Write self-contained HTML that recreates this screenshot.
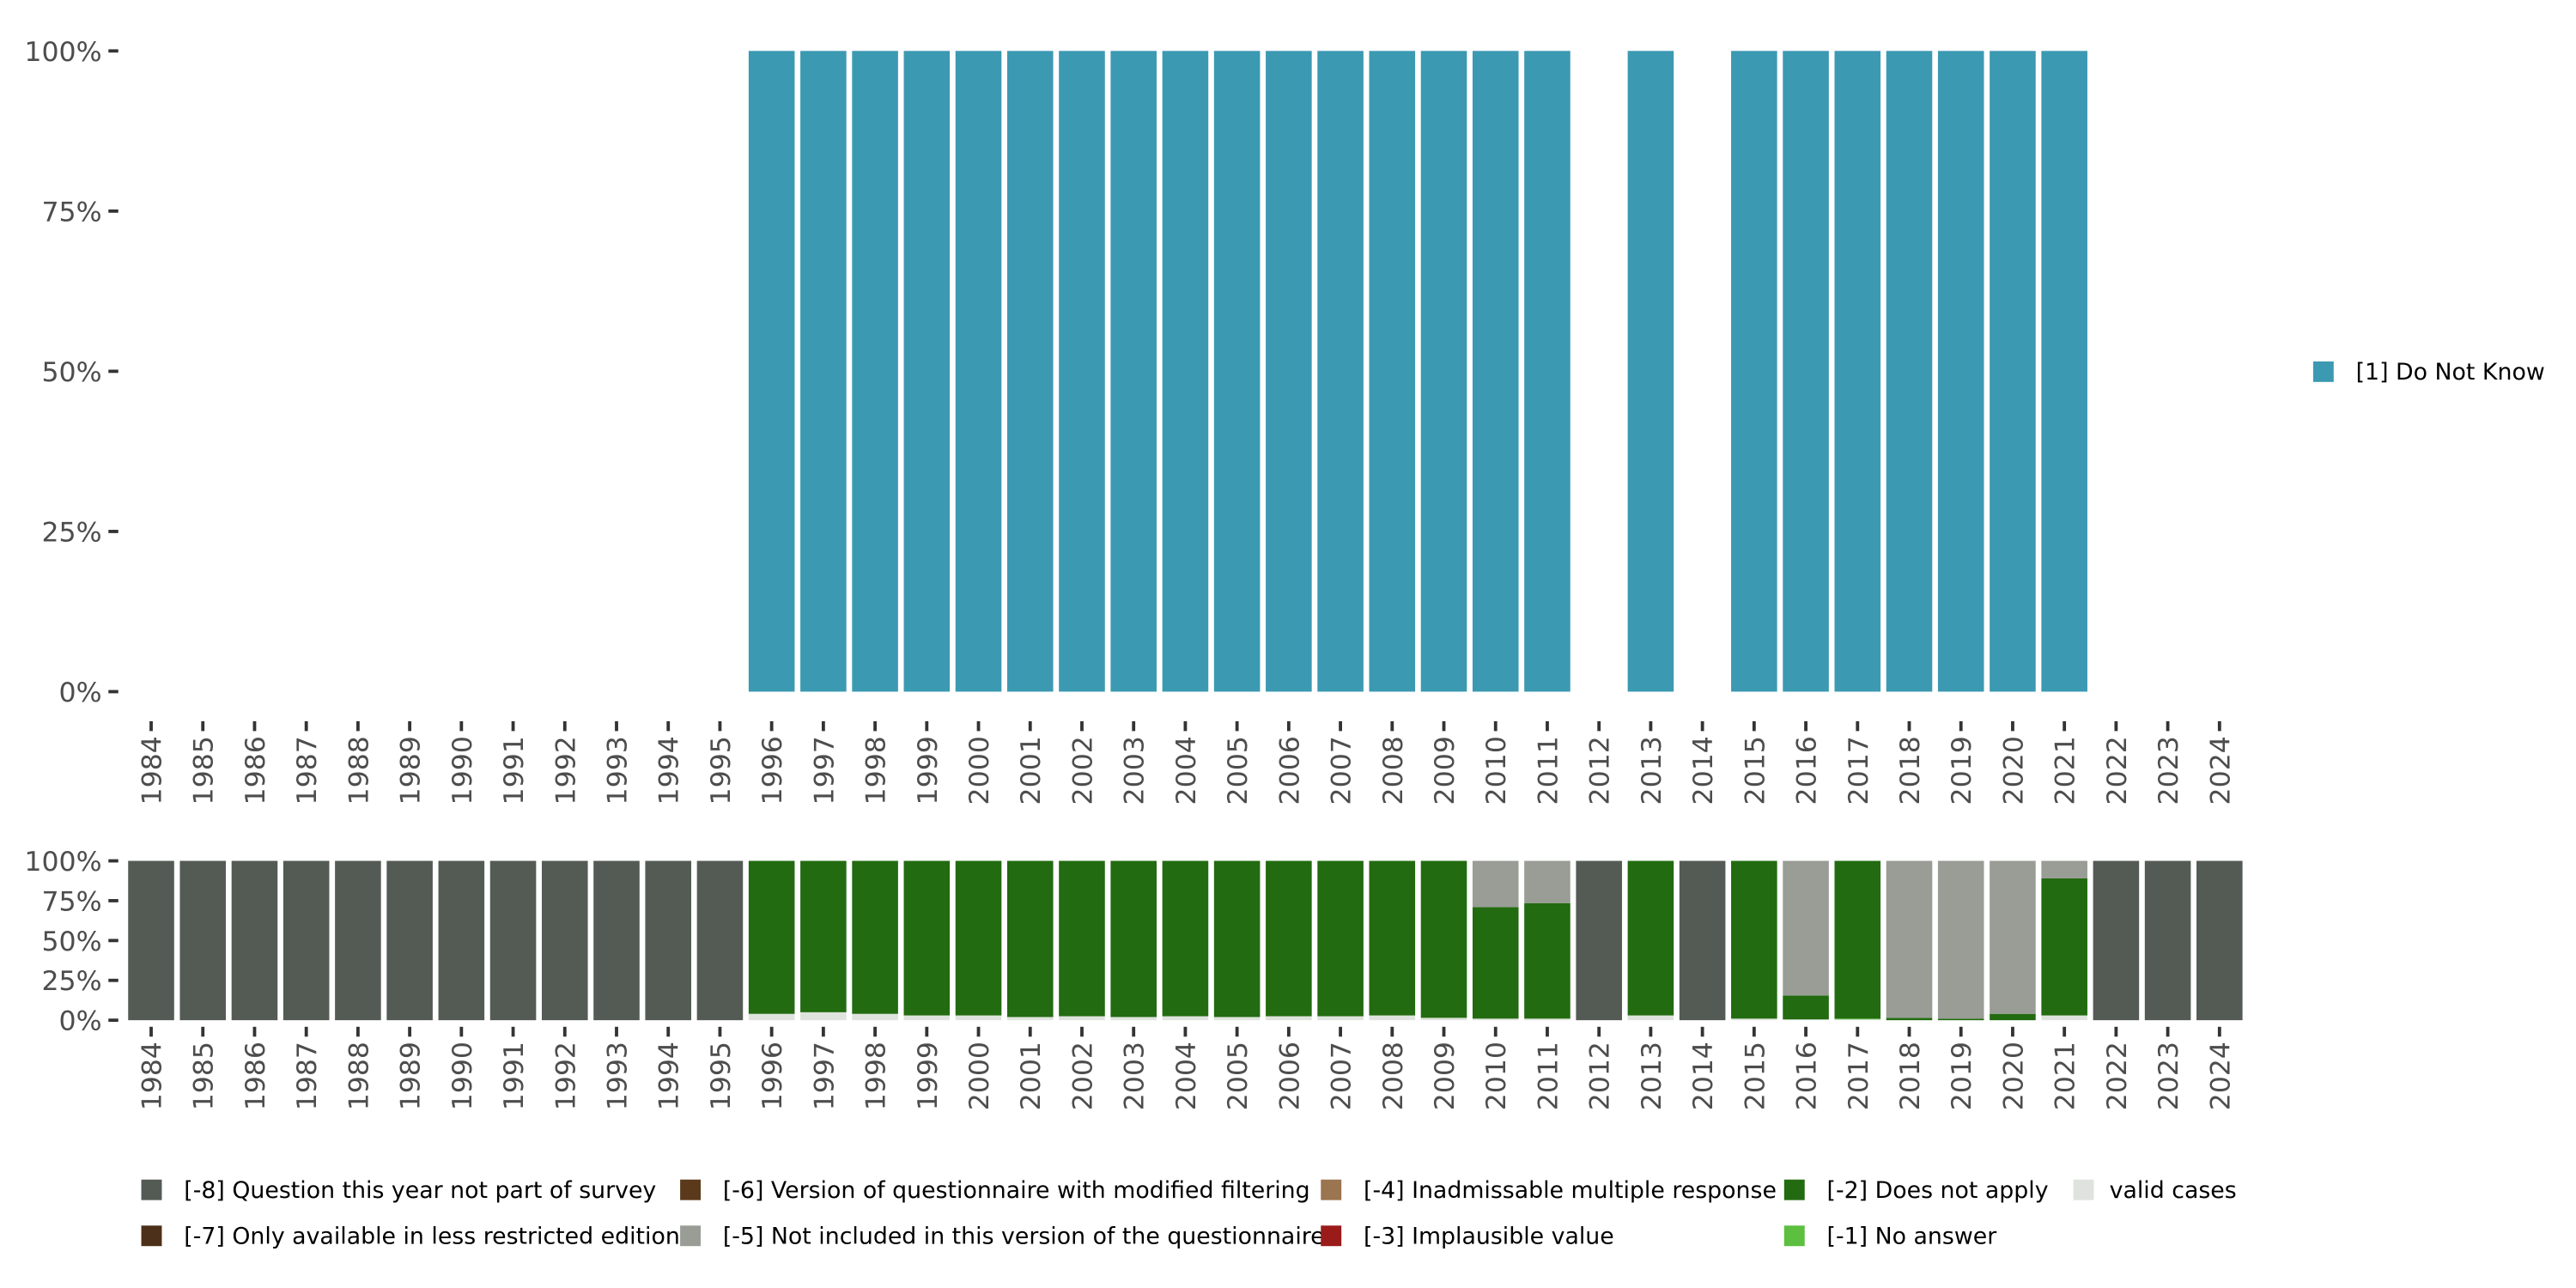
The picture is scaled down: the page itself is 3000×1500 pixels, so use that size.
<!DOCTYPE html>
<html><head><meta charset="utf-8"><style>
html,body{margin:0;padding:0;background:#fff;}
svg{display:block;font-family:"DejaVu Sans","Liberation Sans",sans-serif;}
</style></head><body>
<svg id="chart" width="3000" height="1500" viewBox="0 0 1568 784" xmlns="http://www.w3.org/2000/svg">
<g id="top"></g>
<g id="bottom"></g>
<g id="legend"></g>
</svg>
<script>
const years = [];
for (let y = 1984; y <= 2024; y++) years.push(y);
const topYears = [1996,1997,1998,1999,2000,2001,2002,2003,2004,2005,2006,2007,2008,2009,2010,2011,2013,2015,2016,2017,2018,2019,2020,2021];
const topValues = [100,100,100,100,100,100,100,100,100,100,100,100,100,100,100,100,100,100,100,100,100,100,100,100];
const yTicks = [0,25,50,75,100];
const yTickLabels = ["0%","25%","50%","75%","100%"];
// bottom stacked (percent), bottom-to-top: valid, -1, -2, -5, -8
const validVals = [0,0,0,0,0,0,0,0,0,0,0,0, 4,5,4,3,3,2,2.5,2,2.5,2,2.5,2.5,3,1.5, 1,1, 0,3,0,1,0.5,0.5,0,0,0,3, 0,0,0];
const noAnswerVals = [0,0,0,0,0,0,0,0,0,0,0,0, 0,0,0,0,0,0,0,0,0,0,0,0,0,0, 0,0, 0,0,0,0,0,0.5,0,0,0,0, 0,0,0];
const notApplyVals = [0,0,0,0,0,0,0,0,0,0,0,0, 96,95,96,97,97,98,97.5,98,97.5,98,97.5,97.5,97,98.5, 70,72.5, 0,97,0,99,15,99,1.5,1,4,86, 0,0,0];
const notIncludedVals = [0,0,0,0,0,0,0,0,0,0,0,0, 0,0,0,0,0,0,0,0,0,0,0,0,0,0, 29,26.5, 0,0,0,0,84.5,0,98.5,99,96,11, 0,0,0];
const notSurveyVals = [100,100,100,100,100,100,100,100,100,100,100,100, 0,0,0,0,0,0,0,0,0,0,0,0,0,0, 0,0, 100,0,100,0,0,0,0,0,0,0, 100,100,100];
const seriesNames = ["valid","no-answer","does-not-apply","not-included","not-part-of-survey"];
const seriesColors = ["#dfe3dd","#5cbf3f","#226b10","#999d96","#545b55"];
const seriesData = [validVals,noAnswerVals,notApplyVals,notIncludedVals,notSurveyVals];

const NS = "http://www.w3.org/2000/svg";
function mk(tag, attrs, parent){const e=document.createElementNS(NS,tag);for(const k in attrs)e.setAttribute(k,attrs[k]);parent.appendChild(e);return e;}
const x0 = 92, pitch = (1351-92)/40, bw = 28;
function xScale(yr){return x0 + (yr-1984)*pitch;}
function makeY(top,bot){return v => bot - (v/100)*(bot-top);}

function axes(g, yS, labY, tickY){
  yTicks.forEach((t,i)=>{
    const y=yS(t);
    const tx=mk("text",{x:62,y:y+6,"text-anchor":"end","font-size":16.5,fill:"#4d4d4d"},g);
    tx.textContent=yTickLabels[i];
    
    
    const l=mk("line",{x1:66,x2:72,y1:y,y2:y,stroke:"#333","stroke-width":2},g);
    
    
  });
  years.forEach(yr=>{
    const x=xScale(yr);
    const l=mk("line",{x1:x,x2:x,y1:tickY,y2:tickY+6,stroke:"#333","stroke-width":2},g);
    
    
    const t=mk("text",{x:0,y:0,"text-anchor":"end","font-size":16.5,fill:"#4d4d4d",transform:`translate(${x+6},${labY}) rotate(-90)`},g);
    t.textContent=yr;
    
    
  });
}

// top
const gt=document.getElementById("top");
const yT=makeY(31,421);
topYears.forEach((yr,i)=>{
  const r=mk("rect",{x:xScale(yr)-bw/2,y:yT(topValues[i]),width:bw,height:yT(0)-yT(topValues[i]),fill:"#3c99b2"},gt);
  
  
});
axes(gt,yT,448,439);

// bottom
const gb=document.getElementById("bottom");
const yB=makeY(524,621);
years.forEach((yr,i)=>{
  let cum=0;
  seriesData.forEach((arr,s)=>{
    const v=arr[i]; if(v<=0) return;
    const r=mk("rect",{x:xScale(yr)-bw/2,y:yB(cum+v),width:bw,height:yB(cum)-yB(cum+v),fill:seriesColors[s]},gb);
    
    
    cum+=v;
  });
});
axes(gb,yB,634,625);

// legends
const gl=document.getElementById("legend");
const legItems=[
 ["[1] Do Not Know","#3c99b2",1408,226],
 ["[-8] Question this year not part of survey","#545b55",86,724],
 ["[-7] Only available in less restricted edition","#4d3019",86,752],
 ["[-6] Version of questionnaire with modified filtering","#5a3a1a",414,724],
 ["[-5] Not included in this version of the questionnaire","#999d96",414,752],
 ["[-4] Inadmissable multiple response","#9b7450",804,724],
 ["[-3] Implausible value","#9b1b1b",804,752],
 ["[-2] Does not apply","#226b10",1086,724],
 ["[-1] No answer","#5cbf3f",1086,752],
 ["valid cases","#dfe3dd",1262,724]
];
legItems.forEach(it=>{
  const g=mk("g",{},gl);
  
  
  mk("rect",{x:it[2],y:it[3]-6,width:12.5,height:12.5,fill:it[1]},g);
  const t=mk("text",{x:it[2]+(it[2]===1262?22:26),y:it[3]+5,"font-size":14,fill:"#000"},g);
  t.textContent=it[0];
});
</script>
</body></html>
